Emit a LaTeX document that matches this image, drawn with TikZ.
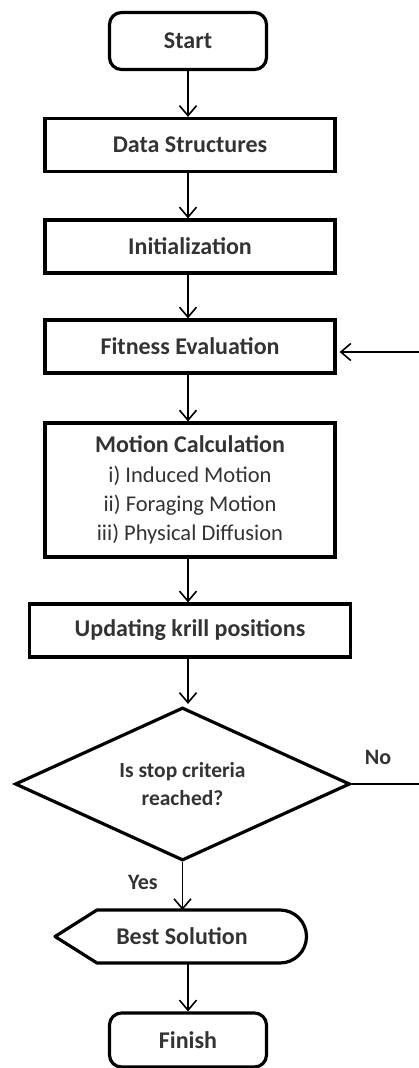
\documentclass[tikz,border=0pt]{standalone}
\usepackage{fontspec}
\setmainfont{Carlito}
\usetikzlibrary{arrows.meta, positioning, shapes.geometric}

\tikzset{
  box/.style={draw, line width=3.2pt, minimum width=290pt, minimum height=53pt,
    inner sep=0pt, font=\fontsize{24}{29}\selectfont\bfseries, text=black!80},
  term/.style={box, rounded corners=12pt, minimum width=157pt, minimum height=57pt},
  decide/.style={draw, diamond, shape aspect=2.19, line width=3.2pt, minimum width=335pt,
    minimum height=153pt, inner sep=0pt, align=center,
    font=\fontsize{21.5}{28}\selectfont\bfseries, text=black!80},
  lbl/.style={font=\fontsize{22}{26}\selectfont\bfseries, text=black!80},
  flow/.style={line width=1.6pt, -{Straight Barb[length=10pt,width=17pt,line width=1.6pt]}}
}

\begin{document}
\begin{tikzpicture}[x=1pt, y=-1pt]
  \useasboundingbox (0,0) rectangle (419,1068);

  % === BOXES ===
  \node[term] (start) at (188,41) {Start};
  \node[box] (data) at (190,145) {Data Structures};
  \node[box] (init) at (190,246.5) {Initialization};
  \node[box] (fit) at (190,346.5) {Fitness Evaluation};
  \node[box, minimum height=134pt, align=center] (motion) at (190,490)
    {Motion Calculation\\[1pt]
     \mdseries\fontsize{22.5}{29}\selectfont i) Induced Motion\\
     \mdseries\fontsize{22.5}{29}\selectfont ii) Foraging Motion\\
     \mdseries\fontsize{22.5}{29}\selectfont iii) Physical Diffusion};
  \node[box, minimum width=321pt] (update) at (190,630.5) {Updating krill positions};
  \node[decide] (stop) at (182.5,784) {Is stop criteria\\reached?};

  % Best solution (display shape)
  \node[box, draw=none, minimum width=250pt] (best) at (182,936.5) {Best Solution};
  \draw[line width=3.2pt, line join=round] (55,936.5) -- (97,910) -- (280,910)
    arc[start angle=-90, end angle=90, radius=26.5] -- (97,963) -- cycle;

  \node[term, minimum height=54pt] (finish) at (188,1040) {Finish};

  % === LABELS ===
  \node[lbl] (no) at (378,757) {No};
  \node[lbl] (yes) at (143,882) {Yes};

  % === ARROWS ===
  \draw[flow] (start.south) -- (start.south |- data.north);
  \draw[flow] ([xshift=-2pt]data.south) -- ([xshift=-2pt]init.north);
  \draw[flow] ([xshift=-2pt]init.south) -- ([xshift=-2pt]fit.north);
  \draw[flow] ([xshift=-2pt]fit.south) -- ([xshift=-2pt]motion.north);
  \draw[flow] ([xshift=-2pt]motion.south) -- ([xshift=-2pt]update.north);
  \draw[flow] ([xshift=-2pt]update.south) -- ([xshift=-2pt,yshift=2pt]update.south |- stop.north);
  \draw[flow] (stop.south) -- (stop.south |- 0,910);
  \draw[flow] (188,963) -- (finish.north);

  % feedback to fitness
  \coordinate (loopout) at (419,784);
  \coordinate (loopin) at (419,352);
  \draw[line width=1.6pt] (stop.east) -- (loopout);
  \draw[flow] (loopin) -- ([xshift=3pt]loopin -| fit.east);
\end{tikzpicture}
\end{document}
